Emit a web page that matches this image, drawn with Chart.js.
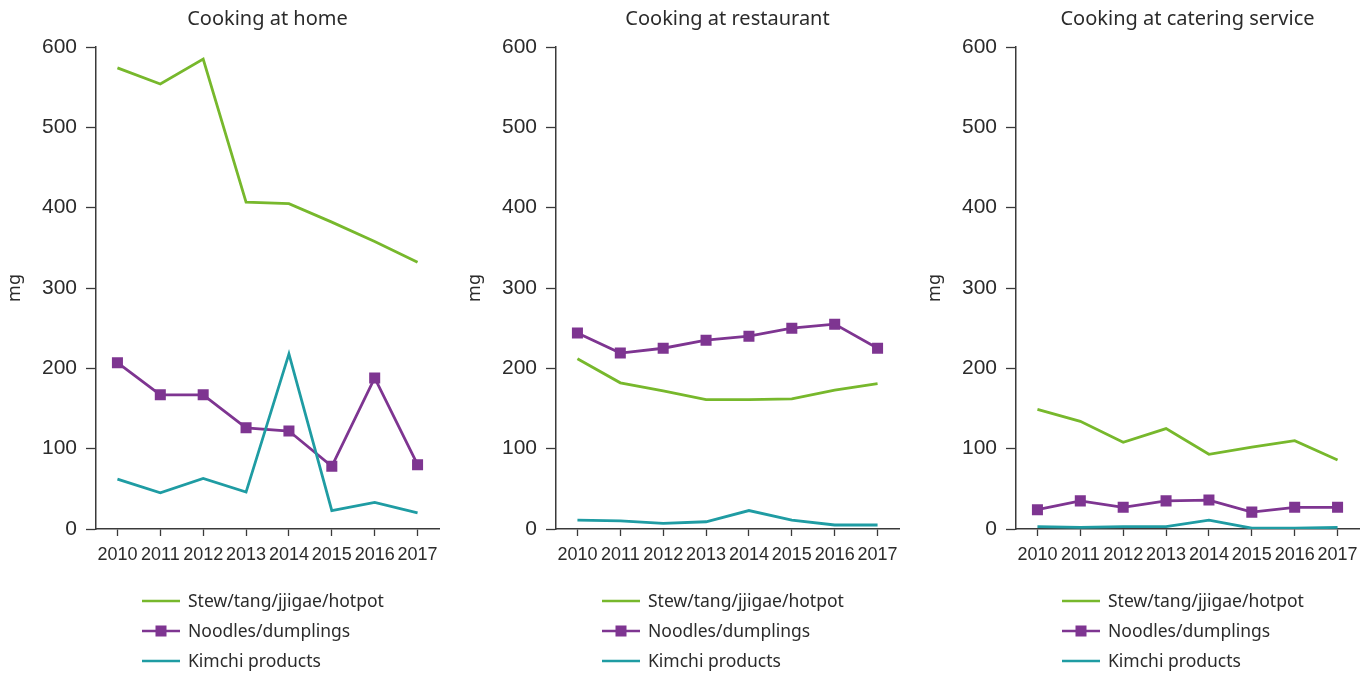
<!DOCTYPE html>
<html>
<head>
<meta charset="utf-8">
<script src="https://cdn.jsdelivr.net/npm/chart.js@4.4.1/dist/chart.umd.min.js"></script>
<style>
  html, body { margin: 0; padding: 0; background: #ffffff; }
  #wrap { position: relative; width: 1370px; height: 673px; }
  .panel { position: absolute; top: 0; width: 460px; height: 673px; }
</style>
</head>
<body>
<div id="wrap">
  <div class="panel" style="left:0px"><canvas id="c0"></canvas></div>
  <div class="panel" style="left:460px"><canvas id="c1"></canvas></div>
  <div class="panel" style="left:920px"><canvas id="c2"></canvas></div>
</div>
<script>
// Sodium content (mg) of dish groups, 2010-2017, by place of cooking
const years = ['2010', '2011', '2012', '2013', '2014', '2015', '2016', '2017'];
const panelTitles = ['Cooking at home', 'Cooking at restaurant', 'Cooking at catering service'];
const seriesNames = ['Stew/tang/jjigae/hotpot', 'Noodles/dumplings', 'Kimchi products'];
const yTicks = [0, 100, 200, 300, 400, 500, 600];

const homeStew     = [574, 554, 585, 407, 405, 382, 358, 332];
const homeNoodles  = [207, 167, 167, 126, 122, 78, 188, 80];
const homeKimchi   = [62, 45, 63, 46, 218, 23, 33, 20];

const restStew     = [212, 182, 172, 161, 161, 162, 173, 181];
const restNoodles  = [244, 219, 225, 235, 240, 250, 255, 225];
const restKimchi   = [11, 10, 7, 9, 23, 11, 5, 5];

const caterStew    = [149, 134, 108, 125, 93, 102, 110, 86];
const caterNoodles = [24, 35, 27, 35, 36, 21, 27, 27];
const caterKimchi  = [3, 2, 3, 3, 11, 1, 1, 2];

const panelData = [
  [homeStew, homeNoodles, homeKimchi],
  [restStew, restNoodles, restKimchi],
  [caterStew, caterNoodles, caterKimchi]
];

const GREEN = '#77b82c';
const PURPLE = '#7e3591';
const TEAL = '#1f9ca3';
const INK = '#2b2b2b';
const AXIS = '#3a3a3a';
const colors = [GREEN, PURPLE, TEAL];

const TEXT_FONT = '"Noto Sans", "Open Sans", sans-serif';
const TICK_FONT = '"Liberation Sans", Arial, sans-serif';

// Panel title and vertical legend drawn on the canvas
const panelDecor = {
  id: 'panelDecor',
  afterDraw(chart, args, opts) {
    const ctx = chart.ctx;
    const area = chart.chartArea;
    ctx.save();
    ctx.fillStyle = INK;
    ctx.font = '20px ' + TEXT_FONT;
    ctx.textAlign = 'center';
    ctx.textBaseline = 'middle';
    ctx.fillText(opts.title, (area.left + area.right) / 2, 19);

    const lx = 142, tx = 188;
    chart.data.datasets.forEach((ds, i) => {
      const y = 601 + i * 30;
      ctx.strokeStyle = ds.borderColor;
      ctx.lineWidth = 2.6;
      ctx.beginPath();
      ctx.moveTo(lx, y);
      ctx.lineTo(lx + 38, y);
      ctx.stroke();
      if (ds.pointStyle === 'rect') {
        ctx.fillStyle = ds.borderColor;
        ctx.fillRect(lx + 19 - 5.5, y - 5.5, 11, 11);
      }
      ctx.fillStyle = INK;
      ctx.font = '17.5px ' + TEXT_FONT;
      ctx.textAlign = 'left';
      ctx.fillText(ds.label, tx, y + 1);
    });
    ctx.restore();
  }
};

function buildChart(idx) {
  const vals = panelData[idx];
  const datasets = vals.map((v, i) => ({
    label: seriesNames[i],
    data: v,
    borderColor: colors[i],
    backgroundColor: colors[i],
    borderWidth: 2.8,
    tension: 0,
    pointStyle: i === 1 ? 'rect' : 'circle',
    pointRadius: i === 1 ? 7.8 : 0,
    pointHoverRadius: i === 1 ? 7.8 : 0,
    pointBorderWidth: 0,
    order: 2 - i
  }));
  return new Chart(document.getElementById('c' + idx), {
    type: 'line',
    data: { labels: years, datasets },
    options: {
      responsive: false,
      animation: false,
      devicePixelRatio: 1,
      layout: { padding: { top: 47, right: 21, left: 0, bottom: 0 } },
      plugins: {
        legend: { display: false },
        tooltip: { enabled: false },
        panelDecor: { title: panelTitles[idx] }
      },
      scales: {
        x: {
          offset: true,
          grid: {
            offset: false,
            drawOnChartArea: false,
            drawTicks: true,
            tickLength: 7,
            tickColor: AXIS,
            tickWidth: 1.3
          },
          border: { display: true, color: AXIS, width: 1.5 },
          ticks: {
            color: INK,
            font: { family: TICK_FONT, size: 18 },
            padding: 8,
            maxRotation: 0,
            autoSkip: false
          },
          afterFit(scale) { scale.height = 144; }
        },
        y: {
          min: 0,
          max: 600,
          afterBuildTicks(scale) { scale.ticks = yTicks.map(v => ({ value: v })); },
          grid: {
            drawOnChartArea: false,
            drawTicks: true,
            tickLength: 10,
            tickColor: AXIS,
            tickWidth: 1.3
          },
          border: { display: true, color: AXIS, width: 1.5 },
          ticks: {
            color: INK,
            font: { family: TICK_FONT, size: 21 },
            padding: 9
          },
          title: {
            display: true,
            text: 'mg',
            color: INK,
            font: { family: TEXT_FONT, size: 18 },
            padding: { top: 4, bottom: 4 }
          },
          afterFit(scale) { scale.width = 96; }
        }
      }
    },
    plugins: [panelDecor]
  });
}

[0, 1, 2].forEach(i => {
  const c = document.getElementById('c' + i);
  c.width = 460; c.height = 673;
  c.style.width = '460px'; c.style.height = '673px';
  buildChart(i);
});
</script>
</body>
</html>
